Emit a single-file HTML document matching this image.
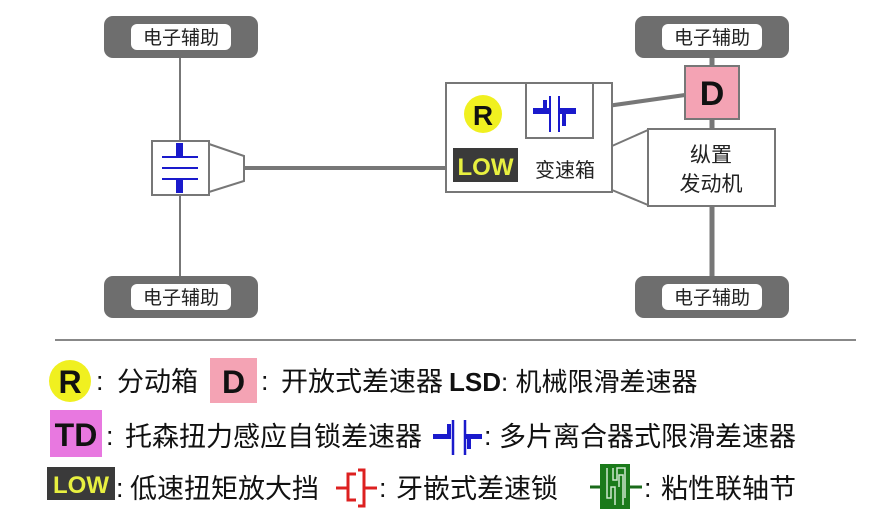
<!DOCTYPE html>
<html><head><meta charset="utf-8"><style>
body{margin:0;background:#fff;width:892px;height:520px;overflow:hidden;position:relative;font-family:"Liberation Sans","Noto Sans CJK SC",sans-serif}
.t{position:absolute;font-size:27px;color:#111;white-space:nowrap;line-height:1}
</style></head><body>
<svg width="892" height="520" style="position:absolute;left:0;top:0" font-family="Liberation Sans, Noto Sans CJK SC, sans-serif">
<g fill="#6e6e6e">
<rect x="104" y="16" width="154" height="42" rx="9"/>
<rect x="104" y="276" width="154" height="42" rx="9"/>
<rect x="635" y="16" width="154" height="42" rx="9"/>
<rect x="635" y="276" width="154" height="42" rx="9"/>
</g>
<g fill="#fff">
<rect x="131" y="24" width="100" height="26" rx="6"/>
<rect x="131" y="284" width="100" height="26" rx="6"/>
<rect x="662" y="24" width="100" height="26" rx="6"/>
<rect x="662" y="284" width="100" height="26" rx="6"/>
</g>
<g font-size="19" fill="#222" text-anchor="middle">
<text x="181" y="44">电子辅助</text>
<text x="181" y="304">电子辅助</text>
<text x="712" y="44">电子辅助</text>
<text x="712" y="304">电子辅助</text>
</g>
<g stroke="#777" fill="none">
<line x1="180" y1="58" x2="180" y2="276" stroke-width="2"/>
<line x1="244" y1="168" x2="446" y2="168" stroke-width="4"/>
<line x1="712" y1="58" x2="712" y2="276" stroke-width="5"/>
<line x1="593" y1="108" x2="685" y2="95" stroke-width="4"/>
</g>
<rect x="152" y="141" width="57" height="54" fill="#fff" stroke="#777" stroke-width="2"/>
<polygon points="209,144 244,156 244,181 209,192" fill="#fff" stroke="#777" stroke-width="2"/>
<g stroke="#1a1acc" stroke-width="2">
<line x1="162" y1="157" x2="198" y2="157"/><line x1="162" y1="168" x2="198" y2="168"/><line x1="162" y1="179" x2="198" y2="179"/>
</g>
<rect x="176" y="143" width="7" height="14" fill="#1a1acc"/>
<rect x="176" y="179" width="7" height="14" fill="#1a1acc"/>
<rect x="446" y="83" width="166" height="109" fill="#fff" stroke="#777" stroke-width="2"/>
<rect x="526" y="83" width="67" height="55" fill="#fff" stroke="#777" stroke-width="2"/>
<polygon points="612,146 648,130 648,205 612,190" fill="#fff" stroke="#777" stroke-width="2"/>
<circle cx="483" cy="114" r="19" fill="#f0f020"/>
<text x="483" y="125" font-size="28" font-weight="bold" text-anchor="middle" fill="#111">R</text>
<rect x="453" y="148" width="65" height="34" fill="#3a3a3a"/>
<text x="485.5" y="175" font-size="24" font-weight="bold" text-anchor="middle" fill="#e8f040">LOW</text>
<text x="565" y="177" font-size="20" text-anchor="middle" fill="#222">变速箱</text>
<g stroke="#1a1acc" stroke-width="2"><line x1="550" y1="96" x2="550" y2="132"/><line x1="559" y1="96" x2="559" y2="132"/></g>
<rect x="533" y="108" width="17" height="6" fill="#1a1acc"/><rect x="559" y="108" width="17" height="6" fill="#1a1acc"/>
<rect x="543" y="100" width="4" height="14" fill="#1a1acc"/><rect x="562" y="108" width="4" height="18" fill="#1a1acc"/>
<rect x="648" y="129" width="127" height="77" fill="#fff" stroke="#777" stroke-width="2"/>
<text x="711" y="162" font-size="21" text-anchor="middle" fill="#222">纵置</text>
<text x="711" y="191" font-size="21" text-anchor="middle" fill="#222">发动机</text>
<rect x="685" y="66" width="54" height="53" fill="#f4a3b4" stroke="#777" stroke-width="2"/>
<text x="712" y="105" font-size="34" font-weight="bold" text-anchor="middle" fill="#111">D</text>
<line x1="55" y1="340" x2="856" y2="340" stroke="#888" stroke-width="2"/>
<circle cx="70" cy="381" r="21" fill="#f0f020"/>
<text x="70" y="393" font-size="32" font-weight="bold" text-anchor="middle" fill="#111">R</text>
<rect x="210" y="358" width="47" height="45" fill="#f4a3b4"/>
<text x="233.5" y="393" font-size="32" font-weight="bold" text-anchor="middle" fill="#111">D</text>
<rect x="50" y="410" width="52" height="47" fill="#e878e0"/>
<text x="76" y="446" font-size="32" font-weight="bold" text-anchor="middle" fill="#111">TD</text>
<rect x="47" y="467" width="68" height="33" fill="#3a3a3a"/>
<text x="81" y="493" font-size="24" font-weight="bold" text-anchor="middle" fill="#e8f040">LOW</text>
<g stroke="#1a1acc" stroke-width="2.5"><line x1="453" y1="420" x2="453" y2="455"/><line x1="465" y1="420" x2="465" y2="455"/></g>
<rect x="433" y="434" width="17" height="5" fill="#1a1acc"/><rect x="465" y="434" width="17" height="5" fill="#1a1acc"/>
<rect x="447" y="424" width="4" height="15" fill="#1a1acc"/><rect x="467" y="434" width="4" height="15" fill="#1a1acc"/>
<g stroke="#dd2020" stroke-width="3" fill="none">
<line x1="336" y1="488" x2="348" y2="488"/>
<polyline points="356,474 348,474 348,500 356,500"/>
<polyline points="358,470 364,470 364,506 358,506"/>
<line x1="364" y1="488" x2="377" y2="488"/>
</g>
<line x1="590" y1="487" x2="642" y2="487" stroke="#1a6a1a" stroke-width="3"/>
<rect x="600" y="464" width="30" height="45" fill="#1a7a1a"/>
<g stroke="#cde8cd" stroke-width="1.5" fill="none">
<polyline points="607,468 607,498 611,498 611,487 615,487 615,505"/>
<polyline points="623,505 623,475 619,475 619,487"/>
<polyline points="613,468 613,480 617,480 617,468 625,468 625,498"/>
</g>
</svg>
<div class="t" style="left:96px;top:368px">:</div>
<div class="t" style="left:117px;top:369px">分动箱</div>
<div class="t" style="left:261px;top:368px">:</div>
<div class="t" style="left:281px;top:369px">开放式差速器</div>
<div class="t" style="left:449px;top:369px;font-size:26px"><b>LSD</b>: 机械限滑差速器</div>
<div class="t" style="left:106px;top:423px">:</div>
<div class="t" style="left:125px;top:424px">托森扭力感应自锁差速器</div>
<div class="t" style="left:484px;top:423px">:</div>
<div class="t" style="left:499px;top:424px">多片离合器式限滑差速器</div>
<div class="t" style="left:116px;top:475px">:</div>
<div class="t" style="left:130px;top:476px">低速扭矩放大挡</div>
<div class="t" style="left:379px;top:475px">:</div>
<div class="t" style="left:396px;top:476px">牙嵌式差速锁</div>
<div class="t" style="left:644px;top:475px">:</div>
<div class="t" style="left:661px;top:476px">粘性联轴节</div>
</body></html>
